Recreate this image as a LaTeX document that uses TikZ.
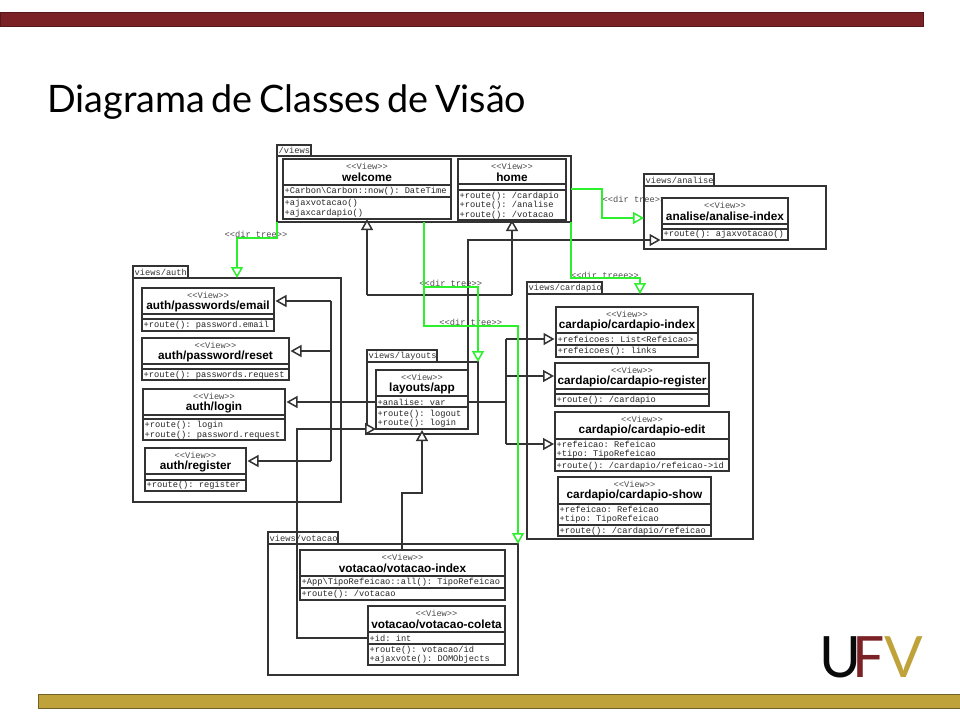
\documentclass[tikz,border=0pt]{standalone}
\usepackage{fontspec}
\setmonofont{Liberation Mono}
\setsansfont{Liberation Sans}
\newfontfamily\slidefont{Lato}
\usetikzlibrary{arrows.meta}
\definecolor{ufvred}{HTML}{7B2226}
\definecolor{ufvgold}{HTML}{BFA23A}
\definecolor{ufvblack}{HTML}{0A0A0A}
\definecolor{dirgreen}{HTML}{2BF02B}
\newcommand{\monotext}{\ttfamily\fontsize{8.7}{9}\selectfont}
\tikzset{
    umlline/.style={line width=1.5pt, draw=black!80},
    umlbox/.style={umlline, fill=white, rectangle, inner sep=0pt, outer sep=0pt, anchor=north west},
    stereo/.style={font=\monotext, text=black!70, inner sep=0pt},
    classname/.style={font=\sffamily\bfseries\fontsize{11.8}{12}\selectfont, inner sep=0pt},
    member/.style={font=\monotext, text=black!85, inner sep=0pt, anchor=west},
    dirlabel/.style={font=\monotext, text=black!70, inner sep=0pt},
    genarrow/.style={umlline, -{Triangle[length=11pt,width=12pt,fill=white]}},
    dirline/.style={line width=1.5pt, draw=dirgreen},
    dirarrow/.style={dirline, -{Triangle[length=11pt,width=12pt,fill=white]}},
    bar/.style={rectangle, inner sep=0pt, outer sep=0pt, anchor=north west},
    logo/.style={font=\slidefont\fontsize{57}{57}\selectfont, inner sep=0pt, anchor=base west}
}
\begin{document}
\begin{tikzpicture}[x=1pt,y=-1pt]
    \useasboundingbox (0,0) rectangle (960,720);
    \node[bar, draw=ufvred!70!black, fill=ufvred, minimum width=923.5pt, minimum height=14pt] (topbar) at (0,12.5) {};
    \node[bar, draw=ufvgold!60!black, fill=ufvgold, minimum width=922pt, minimum height=14pt] (bottombar) at (38,694) {};
    \node[font=\slidefont\fontsize{37.8}{40}\selectfont, inner sep=0pt, anchor=base west] (slidetitle) at (47,112) {\spaceskip=.17em Diagrama de Classes de Visão};
    \node[logo, text=ufvblack] (logou) at (819,677) {U};
    \node[logo, text=ufvred] (logof) at (852,677) {F};
    \node[logo, text=ufvgold] (logov) at (884,677) {V};
    % packages
    \foreach \pname/\xa/\ya/\tabx/\yt/\xb/\yb/\ptext in {%
        pviews/277/145/311/156/571/222/{/views},
        panalise/644/174/714/186/826/249/{views/analise},
        pauth/133/266/188/278/341/502/{views/auth},
        playouts/367/350/437/362/478/434/{views/layouts},
        pcardapio/527/282/602/294/753/539/{views/cardapio},
        pvotacao/268/532/338/544/518/675/{views/votacao}}{%
        \pgfmathsetmacro{\bw}{\tabx-\xa}
        \pgfmathsetmacro{\bh}{\yt-\ya}
        \pgfmathsetmacro{\cw}{\xb-\xa}
        \pgfmathsetmacro{\ch}{\yb-\yt}
        \node[umlbox, minimum width=\bw pt, minimum height=\bh pt] (\pname tab) at (\xa,\ya) {};
        \node[umlbox, minimum width=\cw pt, minimum height=\ch pt] (\pname) at (\xa,\yt) {};
        \node[stereo, text=black!80, anchor=west] (\pname text) at ([xshift=1.5pt]\pname tab.west) {\ptext};
    }
    \foreach \lname/\lx/\ly/\ltext in {%
        ldirauth/256/234/{<<dir tree>>},
        ldirlayouts/450.7/283.3/{<<dir tree>>},
        ldirvotacao/470.7/322.3/{<<dir tree>>},
        ldiranalise/634/199.3/{<<dir tree>>},
        ldircardapio/605/275.3/{<<dir treee>>}}{%
        \node[dirlabel] (\lname) at (\lx,\ly) {\ltext};
    }
    % classes
    \foreach \cname/\xa/\ya/\xb/\yb/\sa/\sb/\ctitle in {%
        welcome/283/159/451/219/185/197/{welcome},
        home/458/159/566/220/184/190/{home},
        analiseindex/662/198/788/240/224/229/{analise/analise-index},
        authemail/142/288/274/331/314/319/{auth/passwords/email},
        authreset/142/338/289/380/364/369/{auth/password/reset},
        authlogin/143/389/285/440/415/419/{auth/login},
        authregister/145/448/246/491/474/480/{auth/register},
        layoutsapp/376/370/468/429/396/407/{layouts/app},
        cardindex/556/307/698/357/333/345/{cardapio/cardapio-index},
        cardregister/555/363/709/406/389/394/{cardapio/cardapio-register},
        cardedit/555/412/729/471/439/459/{cardapio/cardapio-edit},
        cardshow/558/477/711/536/504/525/{cardapio/cardapio-show},
        votaindex/300/550/505/600/576/588/{votacao/votacao-index},
        votacoleta/368/606/505/665/632/644/{votacao/votacao-coleta}}{%
        \pgfmathsetmacro{\bw}{\xb-\xa}
        \pgfmathsetmacro{\bh}{\yb-\ya}
        \node[umlbox, minimum width=\bw pt, minimum height=\bh pt] (\cname) at (\xa,\ya) {};
        \node[stereo] (\cname view) at ([yshift=-7.5pt]\cname.north) {<<View>>};
        \node[classname] (\cname title) at ([yshift=-18pt]\cname.north) {\ctitle};
        \draw[umlline] (\cname.west |- 0,\sa) -- (\cname.east |- 0,\sa);
        \draw[umlline] (\cname.west |- 0,\sb) -- (\cname.east |- 0,\sb);
    }
    \foreach \cname/\yy/\mtext [count=\i] in {%
        welcome/191.7/{+Carbon\textbackslash Carbon::now(): DateTime},
        welcome/203/{+ajaxvotacao()},
        welcome/213/{+ajaxcardapio()},
        home/196/{+route(): /cardapio},
        home/205.5/{+route(): /analise},
        home/215/{+route(): /votacao},
        analiseindex/234.7/{+route(): ajaxvotacao()},
        authemail/325/{+route(): password.email},
        authreset/375/{+route(): passwords.request},
        authlogin/425.7/{+route(): login},
        authlogin/435/{+route(): password.request},
        authregister/485/{+route(): register},
        layoutsapp/402/{+analise: var},
        layoutsapp/414.3/{+route(): logout},
        layoutsapp/423.7/{+route(): login},
        cardindex/339.7/{+refeicoes: List<Refeicao>},
        cardindex/351.3/{+refeicoes(): links},
        cardregister/400.3/{+route(): /cardapio},
        cardedit/444.3/{+refeicao: Refeicao},
        cardedit/454/{+tipo: TipoRefeicao},
        cardedit/466.3/{+route(): /cardapio/refeicao->id},
        cardshow/509.7/{+refeicao: Refeicao},
        cardshow/519/{+tipo: TipoRefeicao},
        cardshow/531/{+route(): /cardapio/refeicao},
        votaindex/582.3/{+App\textbackslash TipoRefeicao::all(): TipoRefeicao},
        votaindex/594.3/{+route(): /votacao},
        votacoleta/638.3/{+id: int},
        votacoleta/650/{+route(): votacao/id},
        votacoleta/659.3/{+ajaxvote(): DOMObjects}}{%
        \node[member] (member\i) at ([xshift=1.5pt]\cname.west |- 0,\yy) {\mtext};
    }
    % generalizations
    \coordinate (busleft) at (welcome.south |- 0,295);
    \coordinate (busright) at (home.south |- 0,295);
    \draw[umlline] (busleft) -- (busright);
    \draw[genarrow] (busleft) -- (welcome.south);
    \draw[genarrow] (busright) -- (home.south);
    \coordinate (appup) at (layoutsapp.north east |- 0,240);
    \draw[genarrow, shorten >=1.5pt] (layoutsapp.north east) -- (appup) -- (analiseindex.west |- appup);
    \coordinate (authbus) at (331,402);
    \coordinate (authemailin) at (331,301);
    \coordinate (authresetin) at (331,351);
    \coordinate (authregisterin) at (331,461);
    \draw[umlline] (authemailin) -- (authregisterin);
    \draw[genarrow, shorten >=1.5pt] (layoutsapp.west |- authbus) -- (authlogin.east |- authbus);
    \draw[genarrow, shorten >=1.5pt] (authemailin) -- (authemail.east |- authemailin);
    \draw[genarrow, shorten >=1.5pt] (authresetin) -- (authreset.east |- authresetin);
    \draw[genarrow, shorten >=1.5pt] (authregisterin) -- (authregister.east |- authregisterin);
    \coordinate (cardbus) at (506,402);
    \coordinate (cardindexin) at (506,339);
    \coordinate (cardregisterin) at (506,376);
    \coordinate (cardeditin) at (506,444);
    \draw[umlline] (layoutsapp.east |- cardbus) -- (cardbus);
    \draw[umlline] (cardindexin) -- (cardeditin);
    \draw[genarrow, shorten >=1.5pt] (cardindexin) -- (cardindex.west |- cardindexin);
    \draw[genarrow, shorten >=1pt] (cardregisterin) -- (cardregister.west |- cardregisterin);
    \draw[genarrow, shorten >=1pt] (cardeditin) -- (cardedit.west |- cardeditin);
    \coordinate (coletaout) at (297,638);
    \coordinate (layoutsin) at (297,429);
    \draw[genarrow] (votacoleta.west |- coletaout) -- (coletaout) -- (layoutsin) -- (376,429);
    \coordinate (votabend) at (402,493);
    \draw[genarrow, shorten >=1pt] (votabend |- votaindex.north) -- (votabend) -| (layoutsapp.south);
    % dir tree links
    \coordinate (dirauth) at (pauth.north |- 0,238);
    \draw[dirarrow] (pviews.south west) |- (dirauth) -- (pauth.north);
    \coordinate (dirfork) at (424,287);
    \coordinate (dirvota) at (424,326);
    \draw[dirarrow] (dirfork |- pviews.south) -- (dirvota) -| (pvotacao.north east);
    \draw[dirarrow] (dirfork) -| (playouts.north east);
    \coordinate (diranalise) at (602,189);
    \draw[dirarrow] (pviews.east |- diranalise) -- (diranalise) -- (602,218) -- (panalise.west |- 0,218);
    \coordinate (dircard) at (640,278);
    \draw[dirarrow] (pviews.south east) |- (dircard) -- (pcardapio.north -| dircard);
\end{tikzpicture}
\end{document}
